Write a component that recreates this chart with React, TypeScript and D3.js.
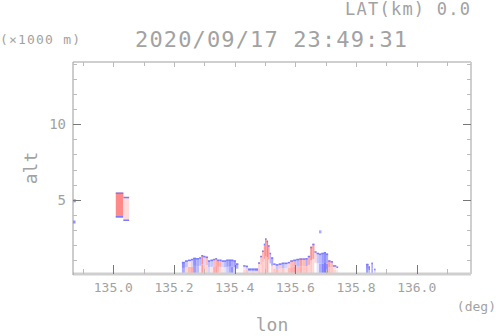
import * as d3 from 'd3';

// ground-level echo columns: left edge (deg), echo top (km), colour value low/high part (-1 blue .. 1 red)
const groundLon = [135.226, 135.236, 135.246, 135.256, 135.263, 135.273, 135.283, 135.290, 135.296, 135.304,
  135.312, 135.320, 135.329, 135.336, 135.342, 135.350, 135.357, 135.365, 135.372, 135.380,
  135.388, 135.396, 135.404, 135.412, 135.428, 135.436, 135.444, 135.455, 135.466, 135.477,
  135.484, 135.490, 135.496, 135.500, 135.505, 135.510, 135.515, 135.520, 135.527, 135.535,
  135.545, 135.555, 135.565, 135.575, 135.583, 135.593, 135.603, 135.613, 135.623, 135.633,
  135.641, 135.649, 135.656, 135.663, 135.670, 135.678, 135.686, 135.694, 135.701, 135.708,
  135.716, 135.724, 135.735, 135.741, 135.833, 135.841, 135.846, 135.851, 135.855, 135.860, 135.864];
const groundTop = [0.9, 1.0, 1.05, 1.1, 1.17, 1.15, 1.2, 1.35, 1.3, 1.25,
  1.0, 1.05, 1.1, 1.15, 1.05, 1.05, 1.0, 1.0, 1.05, 1.05,
  1.05, 1.0, 0.8, 0, 0.68, 0.65, 0.46, 0.46, 0.46, 0.87,
  1.3, 1.65, 2.1, 2.45, 2.3, 2.0, 1.5, 1.2, 0.8, 0.75,
  0.8, 0.85, 0.85, 0.9, 1.0, 1.05, 1.1, 1.13, 1.13, 1.15,
  1.3, 1.9, 2.1, 1.6, 1.5, 1.45, 1.5, 1.55, 1.45, 1.0,
  0.95, 0.68, 0.6, 0, 0.77, 0.6, 0, 0.85, 0, 0.45, 0];
const groundLow = [-0.6, 0.3, 0.5, 0.6, -0.7, -0.5, 0.2, 0.7, 0.4, 0.3,
  -0.3, 0.2, 0.6, 0.7, 0.5, 0.3, 0.2, -0.2, -0.4, -0.6,
  -0.8, -0.3, 0.0, 0, 0.3, 0.4, 0.2, 0.3, 0.2, 0.4,
  0.3, 0.4, 0.3, 0.5, 0.6, 0.3, 0.0, 0.3, 0.4, 0.5,
  0.3, 0.4, 0.2, 0.5, 0.6, 0.7, 0.5, 0.6, 0.4, 0.5,
  0.3, 0.4, 0.3, 0.0, -0.2, -0.6, -0.9, -0.95, -0.8, 0.5,
  0.4, 0.3, 0.2, 0, -0.7, -0.5, 0, -0.8, 0, -0.3, 0];
const groundHigh = [-0.8, -0.4, 0.2, -0.3, -0.8, -0.6, -0.5, 0.8, -0.3, 0.5,
  -0.5, -0.4, 0.5, 0.6, 0.7, 0.6, -0.3, -0.5, -0.7, -0.8,
  -0.6, -0.7, -0.6, 0, 0.2, -0.3, -0.6, -0.6, -0.7, 0.3,
  0.4, 0.5, 0.7, 0.8, 0.9, 0.7, -0.5, -0.6, 0.2, -0.4,
  0.4, -0.5, -0.3, 0.3, 0.5, 0.6, -0.5, 0.7, 0.5, -0.6,
  0.6, 0.8, 0.7, 0.3, -0.4, -0.5, -0.7, -0.8, -0.6, 0.7,
  0.5, 0.2, 0.1, 0, -0.8, -0.9, 0, -0.8, 0, -0.5, 0];

// elevated echo near 135.0
const blockLon = [135.008, 135.033, 135.052];
const blockBase = [3.83, 3.6];
const blockTop = [5.48, 5.2];
const blockVal = [0.85, 0.25];

// isolated specks
const speckLon = [134.868, 134.867, 135.678];
const speckAlt = [4.9, 3.5, 2.85];
const speckVal = [-0.8, -0.8, -0.6];

const xTicks = d3.range(1349, 1362).map(v => v / 10);
const yTicks = d3.range(1, 15);

const App = () => {
  const left = 73, right = 471, top = 62, bottom = 274;
  const x = d3.scaleLinear().domain([134.867, 136.179]).range([left, right]);
  const y = d3.scaleLinear().domain([0.1, 14.1]).range([bottom, top]);
  const color = d3.scaleLinear<string>().domain([-1, 0, 1]).range(['#7474ff', '#ffffff', '#ff7474']);
  const font = '"DejaVu Sans Mono", monospace';
  const txt = '#a2a2a2';
  const edge = '#7b7bff';

  const ground: JSX.Element[] = [];
  for (let i = 0; i < groundLon.length - 1; i++) {
    const t = groundTop[i];
    if (!t) continue;
    const x0 = x(groundLon[i]), x1 = x(groundLon[i + 1]);
    const mid = 0.1 + (t - 0.1) * 0.5;
    ground.push(
      <g key={i}>
        <rect x={x0} width={x1 - x0} y={y(mid)} height={y(0.1) - y(mid)} fill={color(groundLow[i])} />
        <rect x={x0} width={x1 - x0} y={y(t)} height={y(mid) - y(t)} fill={color(groundHigh[i])} />
        <rect x={x0} width={x1 - x0} y={y(t)} height={1.5} fill={edge} />
      </g>
    );
  }

  return (
    <svg width={498} height={336} style={{ position: 'absolute', left: 0, top: 0, background: '#fff' }}>
      <text x={470} y={15} textAnchor="end" fontFamily={font} fontSize={17} fill={txt} textLength={125}>LAT(km) 0.0</text>
      <text x={135} y={47} fontFamily={font} fontSize={22} fill={txt} textLength={272}>2020/09/17 23:49:31</text>
      <text x={0} y={44} fontFamily={font} fontSize={13} fill={txt} textLength={80}>(×1000 m)</text>

      {ground}
      {blockTop.map((t, i) => {
        const x0 = x(blockLon[i]), x1 = x(blockLon[i + 1]);
        return (
          <g key={'b' + i}>
            <rect x={x0} width={x1 - x0} y={y(t)} height={y(blockBase[i]) - y(t)} fill={color(blockVal[i])} />
            <rect x={x0} width={x1 - x0} y={y(t)} height={1.5} fill={edge} />
            <rect x={x0} width={x1 - x0} y={y(blockBase[i]) - 1.5} height={1.5} fill={edge} />
          </g>
        );
      })}
      {speckLon.map((l, i) => (
        <rect key={'s' + i} x={x(l)} y={y(speckAlt[i]) - 2} width={2.5} height={3} fill={color(speckVal[i])} />
      ))}

      {/* frame */}
      <line x1={left} x2={right} y1={top} y2={top} stroke="#cfcfcf" strokeWidth={2} />
      <line x1={right} x2={right} y1={top} y2={bottom} stroke="#cfcfcf" strokeWidth={2} />
      <line x1={left} x2={right} y1={bottom} y2={bottom} stroke="#cfcfcf" strokeWidth={3} />
      <line x1={left} x2={left} y1={top} y2={bottom + 1} stroke="#9a9a9a" strokeWidth={1} />

      {xTicks.map((t, i) => {
        const major = Math.round(t * 10) % 2 === 0;
        const px = Math.round(x(t)) + 0.5;
        return (
          <g key={'x' + i}>
            <line x1={px} x2={px} y1={bottom} y2={bottom - (major ? 9 : 5)} stroke={major ? '#777' : '#bbb'} />
            <line x1={px} x2={px} y1={top} y2={top + (major ? 5 : 4)} stroke="#bbb" />
            {major && (
              <text x={x(t)} y={291.5} textAnchor="middle" fontFamily={font} fontSize={13} fill={txt}>{t.toFixed(1)}</text>
            )}
          </g>
        );
      })}
      {yTicks.map(t => {
        const major = t % 5 === 0;
        const py = Math.round(y(t)) + 0.5;
        return (
          <g key={'y' + t}>
            <line x1={left} x2={left + (major ? 8 : 4)} y1={py} y2={py} stroke={major ? '#777' : '#bbb'} />
            <line x1={right} x2={right - (major ? 8 : 4)} y1={py} y2={py} stroke={major ? '#777' : '#bbb'} />
            {major && (
              <text x={66} y={y(t)} dy="0.36em" textAnchor="end" fontFamily={font} fontSize={14} fill={txt}>{t}</text>
            )}
          </g>
        );
      })}

      <text x={496} y={311} textAnchor="end" fontFamily={font} fontSize={13} fill={txt}>(deg)</text>
      <text x={272} y={331} textAnchor="middle" fontFamily={font} fontSize={18} fill={txt}>lon</text>
      <text transform="translate(37,168) rotate(-90)" textAnchor="middle" fontFamily={font} fontSize={18} fill={txt}>alt</text>
    </svg>
  );
};

export default App;
